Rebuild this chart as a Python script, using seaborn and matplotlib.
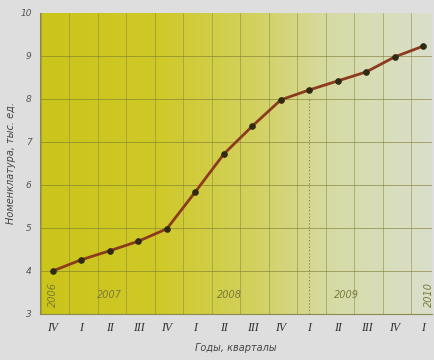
import numpy as np
import pandas as pd
import matplotlib
matplotlib.use("Agg")
import matplotlib.pyplot as plt
from matplotlib.colors import LinearSegmentedColormap
import seaborn as sns

# Quarterly nomenclature size, thousand items
quarters = ["IV", "I", "II", "III", "IV", "I", "II", "III", "IV", "I", "II", "III", "IV", "I"]
values = [4.0, 4.26, 4.47, 4.69, 4.98, 5.84, 6.72, 7.37, 7.98, 8.21, 8.42, 8.63, 8.98, 9.23]
years = ["2006", "2007", "2008", "2009", "2010"]
year_centres = [0, 2.0, 6.2, 10.3, 13.2]
year_rotation = [90, 0, 0, 0, 90]
y_ticks = [3, 4, 5, 6, 7, 8, 9, 10]

df = pd.DataFrame({"pos": np.arange(len(values)), "value": values})

sns.set_theme(style="white")
plt.rcParams["font.family"] = ["DejaVu Sans"]

fig = plt.figure(figsize=(4.35, 3.6), dpi=100)
fig.patch.set_facecolor("#dedede")
ax = fig.add_axes([0.092, 0.128, 0.901, 0.836])

x_min, x_max = -0.45, 13.3
y_min, y_max = 3, 10

# yellow-to-pale background wash
cmap = LinearSegmentedColormap.from_list(
    "wash", [(0.0, "#cbc41a"), (0.3, "#cfc928"), (0.55, "#d2d160"),
             (0.75, "#d6dba6"), (1.0, "#dadfcc")])
grad = np.linspace(0, 1, 256).reshape(1, -1)
ax.imshow(grad, cmap=cmap, aspect="auto", extent=[x_min, x_max, y_min, y_max],
          zorder=0)

# grid
for gx in np.arange(x_min + 0.0, x_max, 1.0):
    ax.axvline(gx + 0.02, color="#8c8a3c", lw=0.7, alpha=0.55, zorder=1)
for gy in y_ticks[1:-1]:
    ax.axhline(gy, color="#7c7a30", lw=0.7, alpha=0.6, zorder=1)
ax.axvline(9.0, ymin=0, ymax=0.72, color="#7a7a50", lw=0.8, ls=(0, (1, 2)),
           zorder=1)

sns.lineplot(data=df, x="pos", y="value", ax=ax, color="#8c3a1e", lw=2.0,
             marker="o", markersize=4, markerfacecolor="#2e2a14",
             markeredgecolor="#2e2a14", zorder=3)

for yr, xc, rot in zip(years, year_centres, year_rotation):
    ax.text(xc, 3.45, yr, rotation=rot, ha="center", va="center",
            fontsize=7, style="italic", color="#7a7a36", zorder=2)

ax.set_xlim(x_min, x_max)
ax.set_ylim(y_min, y_max)
ax.set_xticks(df["pos"])
ax.set_xticklabels(quarters, fontfamily="Liberation Serif", style="italic",
                   fontsize=8.5, color="#333333")
ax.set_yticks(y_ticks)
ax.set_yticklabels([str(t) for t in y_ticks], style="italic", fontsize=6.5,
                   color="#555555")
ax.tick_params(axis="both", length=0, pad=6)
ax.set_xlabel("Годы, кварталы", style="italic", fontsize=7, color="#444444",
              labelpad=6)
ax.set_ylabel("Номенклатура, тыс. ед.", style="italic", fontsize=7,
              color="#444444", labelpad=3)
for side in ["top", "right"]:
    ax.spines[side].set_visible(False)
for side in ["left", "bottom"]:
    ax.spines[side].set_color("#8a8a50")
    ax.spines[side].set_linewidth(0.8)

fig.savefig("out.png", dpi=100, facecolor=fig.get_facecolor())
